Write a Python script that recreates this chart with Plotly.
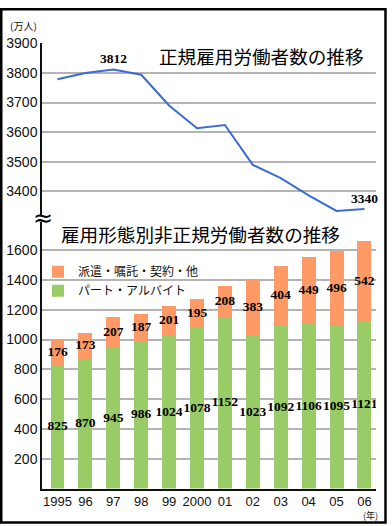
import plotly.graph_objects as go

W, H = 392, 526

years = ["1995", "96", "97", "98", "99", "2000", "01", "02", "03", "04", "05", "06"]
regular = [3779, 3800, 3812, 3794, 3690, 3613, 3624, 3489, 3444, 3386, 3333, 3340]
part_time = [825, 870, 945, 986, 1024, 1078, 1152, 1023, 1092, 1106, 1095, 1121]
dispatch = [176, 173, 207, 187, 201, 195, 208, 383, 404, 449, 496, 542]

top_ticks = [3400, 3500, 3600, 3700, 3800, 3900]
bot_ticks = [200, 400, 600, 800, 1000, 1200, 1400, 1600]
labelled_years = ["97", "06"]

def px(x):
    return x / W

def py(y):
    return 1 - y / H

GREEN = "#99cc66"
ORANGE = "#ff9966"
BLUE = "#3b6bd3"
GRID = "#b4b4b4"
YTICKFONT = dict(family="Liberation Sans Narrow, Arial Narrow, Liberation Sans, Arial, sans-serif", size=14, color="#111")
XTICKFONT = dict(family="Liberation Sans Narrow, Arial Narrow, Liberation Sans, Arial, sans-serif", size=13, color="#111")
NUMFONT = dict(family="Liberation Serif, Times New Roman, serif", size=13.5, color="#000", weight="bold")
JPFONT = "Noto Sans CJK JP, sans-serif"

fig = go.Figure()

# top line chart
fig.add_trace(go.Scatter(x=years, y=regular, mode="lines", line=dict(color=BLUE, width=2),
                         xaxis="x", yaxis="y", showlegend=False, hoverinfo="skip"))

# bottom stacked bars
fig.add_trace(go.Bar(x=years, y=part_time, name="パート・アルバイト", marker=dict(color=GREEN, line=dict(width=0)),
                     xaxis="x2", yaxis="y2"))
fig.add_trace(go.Bar(x=years, y=dispatch, name="派遣・嘱託・契約・他", marker=dict(color=ORANGE, line=dict(width=0)),
                     xaxis="x2", yaxis="y2"))

# bar value labels
fig.add_trace(go.Scatter(x=years, y=[p / 2 for p in part_time], text=[str(v) for v in part_time],
                         mode="text", textposition="middle center", textfont=NUMFONT,
                         xaxis="x2", yaxis="y2", showlegend=False, hoverinfo="skip"))
fig.add_trace(go.Scatter(x=years, y=[p + d / 2 for p, d in zip(part_time, dispatch)], text=[str(v) for v in dispatch],
                         mode="text", textposition="middle center", textfont=NUMFONT,
                         xaxis="x2", yaxis="y2", showlegend=False, hoverinfo="skip"))

xrange = [-0.556, 11.415]
xdom = [px(42), px(376)]

annotations = []
for yr in labelled_years:
    i = years.index(yr)
    annotations.append(dict(x=i, y=regular[i], xref="x", yref="y", text=str(regular[i]), showarrow=False,
                            yanchor="bottom", font=NUMFONT, yshift=1))

annotations += [
    dict(x=px(366), y=py(48), xref="paper", yref="paper", text="正規雇用労働者数の推移", showarrow=False,
         xanchor="right", yanchor="middle", font=dict(family=JPFONT, size=18.6, color="#000")),
    dict(x=px(59), y=py(229), xref="paper", yref="paper", text="雇用形態別非正規労働者数の推移", showarrow=False,
         xanchor="left", yanchor="middle", font=dict(family=JPFONT, size=18.6, color="#000")),
    dict(x=px(8), y=py(18), xref="paper", yref="paper", text="(万人)", showarrow=False,
         xanchor="left", yanchor="middle", font=dict(family=JPFONT, size=10, color="#111")),
    dict(x=px(370), y=py(515), xref="paper", yref="paper", text="(年)", showarrow=False,
         xanchor="center", yanchor="middle", font=dict(family=JPFONT, size=9, color="#111")),
    dict(x=px(43), y=py(213), xref="paper", yref="paper", text="≈", showarrow=False,
         xanchor="center", yanchor="middle", font=dict(family="DejaVu Sans", size=24, color="#000")),
]

fig.update_layout(
    width=W, height=H,
    margin=dict(l=0, r=0, t=0, b=0),
    paper_bgcolor="white", plot_bgcolor="white",
    barmode="stack", bargap=0.5,
    showlegend=True,
    legend=dict(x=px(38), y=py(253), xanchor="left", yanchor="top", traceorder="reversed",
                bgcolor="rgba(0,0,0,0)", font=dict(family=JPFONT, size=12, color="#111"),
                itemclick=False, tracegroupgap=0),
    xaxis=dict(domain=xdom, range=xrange, type="category", anchor="y", showticklabels=False,
               showgrid=False, zeroline=False, showline=False, ticks=""),
    yaxis=dict(domain=[py(210), py(36)], range=[3320, 3900], anchor="x", tickvals=top_ticks,
               showgrid=True, gridcolor=GRID, gridwidth=1.5, zeroline=False,
               showline=True, linecolor="#111", linewidth=1.5, ticks="", tickfont=YTICKFONT),
    xaxis2=dict(domain=xdom, range=xrange, type="category", anchor="y2", showgrid=False, tickangle=0,
                showline=True, linecolor="#111", linewidth=1.5, ticks="", tickfont=XTICKFONT),
    yaxis2=dict(domain=[py(488), py(217)], range=[0, 1791], anchor="x2", tickvals=bot_ticks,
                showgrid=True, gridcolor=GRID, gridwidth=1.5, zeroline=False,
                showline=True, linecolor="#111", linewidth=1.5, ticks="", tickfont=YTICKFONT),
    annotations=annotations,
    shapes=[dict(type="rect", xref="paper", yref="paper", x0=px(1.25), x1=px(385.5), y0=py(522.5), y1=py(1.25),
                 line=dict(color="#000", width=2.5), fillcolor="rgba(0,0,0,0)", layer="above")],
)

fig.write_html("out.html", config={"displayModeBar": False},
               post_script="document.body.style.margin='0px';")
